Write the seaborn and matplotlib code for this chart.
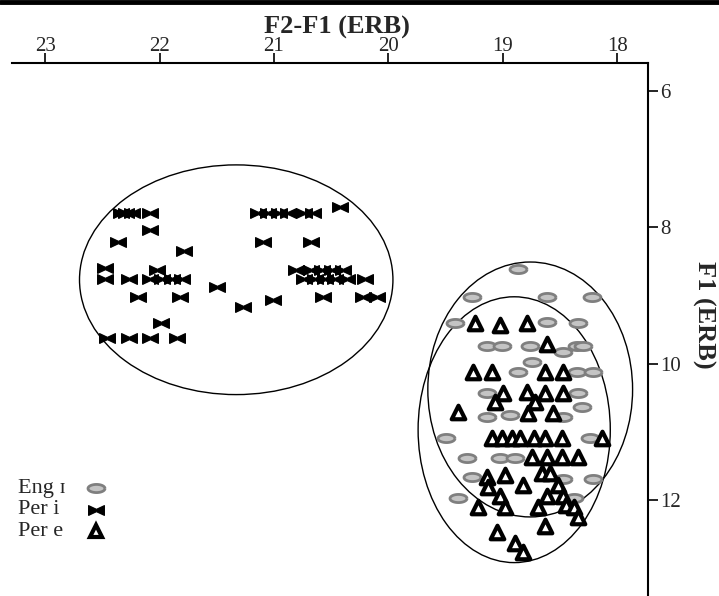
import numpy as np
import pandas as pd
import matplotlib
matplotlib.use("Agg")
import matplotlib.pyplot as plt
from matplotlib.patches import Ellipse
from matplotlib.lines import Line2D
import seaborn as sns

# Eng ɪ (grey ovals)
eng_x = [18.87, 19.27, 18.61, 18.22, 19.42, 18.61, 18.34, 19.14, 19.01, 18.76, 18.47,
         18.35, 18.30, 18.74, 18.87, 18.35, 18.21, 19.14, 18.34, 18.31, 19.14, 18.94,
         18.47, 19.50, 18.24, 19.31, 19.02, 18.89, 19.27, 18.47, 18.21, 19.39, 18.38]
eng_y = [8.61, 9.02, 9.02, 9.02, 9.40, 9.39, 9.40, 9.74, 9.74, 9.74, 9.83,
         9.74, 9.74, 9.97, 10.12, 10.12, 10.12, 10.43, 10.43, 10.63, 10.78, 10.75,
         10.79, 11.09, 11.09, 11.38, 11.38, 11.38, 11.67, 11.70, 11.69, 11.97, 11.97]

# Per i (bowties)
peri_x = [22.34, 22.29, 22.24, 22.08, 21.14, 21.05, 20.96, 20.88, 20.74, 20.66,
          20.42, 22.08, 22.36, 21.10, 20.68, 21.79, 22.48, 22.48, 22.27, 22.02,
          22.08, 21.98, 21.89, 21.80, 20.81, 20.68, 20.58, 20.49, 20.40, 20.74,
          20.64, 20.55, 20.47, 20.36, 20.20, 21.50, 22.19, 21.82, 20.57, 20.22,
          20.10, 21.01, 21.27, 21.99, 22.46, 22.27, 22.08, 21.85]
peri_y = [7.79, 7.79, 7.79, 7.79, 7.79, 7.79, 7.79, 7.79, 7.79, 7.79,
          7.70, 8.04, 8.21, 8.21, 8.21, 8.35, 8.60, 8.76, 8.76, 8.62,
          8.76, 8.76, 8.76, 8.76, 8.62, 8.62, 8.62, 8.62, 8.62, 8.76,
          8.76, 8.76, 8.76, 8.76, 8.76, 8.87, 9.02, 9.02, 9.02, 9.02,
          9.02, 9.06, 9.17, 9.40, 9.62, 9.62, 9.62, 9.62]

# Per e (triangles)
pere_x = [19.24, 19.02, 18.79, 18.61, 19.26, 19.09, 18.63, 18.47, 19.00, 18.79,
          18.63, 18.47, 19.07, 18.72, 19.39, 18.78, 18.56, 19.09, 19.01, 18.92,
          18.85, 18.73, 18.63, 18.48, 18.13, 18.74, 18.61, 18.48, 18.34, 19.14,
          18.98, 18.66, 18.59, 19.13, 18.82, 18.52, 19.02, 18.61, 18.47, 19.22,
          18.98, 18.69, 18.45, 18.38, 18.34, 19.05, 18.63, 18.89, 18.82]
pere_y = [9.40, 9.43, 9.40, 9.72, 10.12, 10.12, 10.12, 10.12, 10.43, 10.41,
          10.43, 10.43, 10.57, 10.57, 10.71, 10.72, 10.72, 11.09, 11.09, 11.09,
          11.09, 11.09, 11.09, 11.09, 11.09, 11.37, 11.37, 11.37, 11.37, 11.66,
          11.63, 11.60, 11.60, 11.81, 11.78, 11.78, 11.95, 11.95, 11.95, 12.10,
          12.10, 12.10, 12.07, 12.10, 12.25, 12.47, 12.39, 12.63, 12.77]

# ellipses: centre x, centre y, width, height
ell_peri = [21.33, 8.77, 2.74, 3.37]
ell_eng = [18.76, 10.38, 1.79, 3.74]
ell_pere = [18.90, 10.97, 1.68, 3.90]

x_ticks = [23, 22, 21, 20, 19, 18]
y_ticks = [6, 8, 10, 12]
legend_labels = ["Eng ɪ", "Per i", "Per e"]

sns.set_style("white")
plt.rcParams['font.family'] = ['Liberation Serif', 'DejaVu Serif']

fig = plt.figure(figsize=(7.19, 5.96), dpi=100)
ax = fig.add_axes([0.0167, 0.0, 0.8846, 0.8943])

t = np.linspace(0, 2 * np.pi, 40)
oval = list(zip(np.cos(t), 0.48 * np.sin(t)))
bowtie = [(-1, -0.62), (-1, 0.62), (0, 0.15), (1, 0.62), (1, -0.62), (0, -0.15), (-1, -0.62)]

eng = pd.DataFrame({"x": eng_x, "y": eng_y})
peri = pd.DataFrame({"x": peri_x, "y": peri_y})
pere = pd.DataFrame({"x": pere_x, "y": pere_y})

styles = [
    dict(marker=oval, s=150, color="#c4c4c4", edgecolor="#7f7f7f", linewidth=2),
    dict(marker=bowtie, s=130, color="black", edgecolor="black", linewidth=0.8),
    dict(marker="^", s=95, color="white", edgecolor="black", linewidth=3),
]
for z, (df, st) in enumerate(zip([eng, peri, pere], styles)):
    sns.scatterplot(data=df, x="x", y="y", ax=ax, zorder=3 + z, legend=False, **st)

for cx, cy, w, h in [ell_peri, ell_eng, ell_pere]:
    ax.add_patch(Ellipse((cx, cy), w, h, fill=False, edgecolor="black", linewidth=1.0, zorder=2))

ax.set_xlim(23.29, 17.73)
ax.set_ylim(13.41, 5.59)

ax.xaxis.tick_top()
ax.xaxis.set_label_position('top')
ax.yaxis.tick_right()
ax.yaxis.set_label_position('right')
ax.set_xticks(x_ticks)
ax.set_yticks(y_ticks)
ax.tick_params(axis='both', direction='out', length=7, width=1.2, labelsize=15, color="black")
ax.tick_params(axis='x', pad=-2)
ax.tick_params(axis='y', pad=2)
for side in ['left', 'bottom']:
    ax.spines[side].set_visible(False)
for side in ['top', 'right']:
    ax.spines[side].set_visible(True)
    ax.spines[side].set_linewidth(1.5)
    ax.spines[side].set_color("black")

ax.set_xlabel("F2-F1 (ERB)", fontsize=19, fontweight='bold')
ax.xaxis.set_label_coords(0.511, 1.056)
ax.set_ylabel("F1 (ERB)", fontsize=19, fontweight='bold', rotation=270, va='center')
ax.yaxis.set_label_coords(1.087, 0.527)

# legend: left-aligned labels with the marker to the right
row_y = [488, 510, 531]
for lab, py, st in zip(legend_labels, row_y, styles):
    yf = 1 - py / 596
    fig.text(18 / 719, yf, lab, fontsize=16, va='center', ha='left')
    ms = np.sqrt(st["s"]) * (0.9 if st["marker"] == "^" else 1.0)
    fig.add_artist(Line2D([96 / 719], [yf], transform=fig.transFigure, linestyle='none',
                          marker=st["marker"], markersize=ms,
                          markerfacecolor=st["color"], markeredgecolor=st["edgecolor"],
                          markeredgewidth=st["linewidth"]))

fig.add_artist(Line2D([0, 1], [0.996, 0.996], color="black", linewidth=3.5, transform=fig.transFigure))

fig.savefig("out.png", dpi=100)
